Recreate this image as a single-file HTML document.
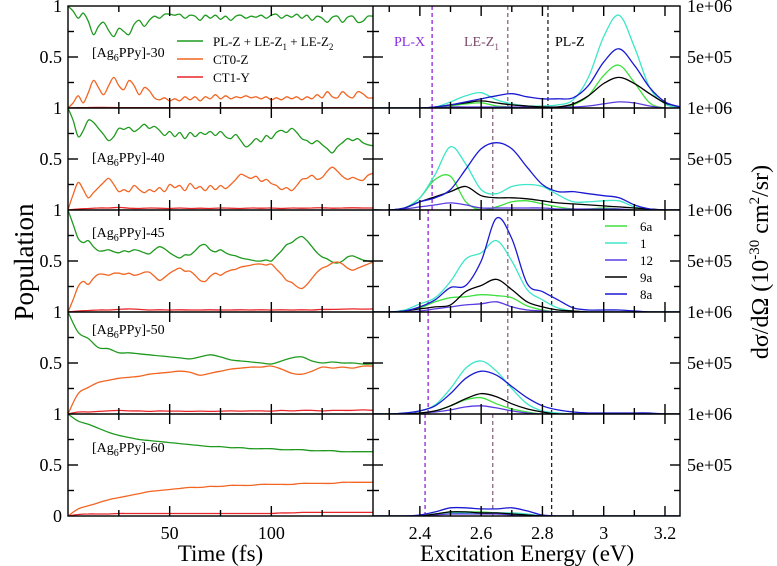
<!DOCTYPE html>
<html><head><meta charset="utf-8"><style>
body{margin:0;background:#fff;}
svg{display:block;font-family:"Liberation Serif",serif;}
</style></head><body>
<svg id="c" width="777" height="566" viewBox="0 0 777 566" xmlns="http://www.w3.org/2000/svg"></svg>
<script>
const timeFine=[];for(let i=0;i<=60;i++)timeFine.push(i*2.5);
const timeCoarse=[];for(let i=0;i<=30;i++)timeCoarse.push(i*5);
const energies=[2.25,2.30,2.35,2.40,2.45,2.50,2.55,2.60,2.65,2.70,2.75,2.80,2.85,2.90,2.95,3.00,3.05,3.10,3.15,3.20,3.25];
const rowNames=["[Ag6PPy]-30","[Ag6PPy]-40","[Ag6PPy]-45","[Ag6PPy]-50","[Ag6PPy]-60"];
const greenR1=[1.0,0.95,0.88,0.93,0.85,0.72,0.80,0.84,0.76,0.70,0.78,0.75,0.72,0.82,0.86,0.80,0.86,0.90,0.88,0.92,0.92,0.91,0.92,0.88,0.91,0.90,0.86,0.91,0.88,0.91,0.87,0.90,0.86,0.90,0.91,0.88,0.90,0.89,0.91,0.88,0.91,0.92,0.88,0.91,0.89,0.92,0.88,0.91,0.86,0.90,0.88,0.84,0.89,0.90,0.84,0.89,0.90,0.84,0.85,0.90,0.90];
const orangeR1=[0,0.05,0.12,0.05,0.15,0.27,0.20,0.13,0.22,0.30,0.22,0.18,0.27,0.22,0.13,0.20,0.17,0.10,0.08,0.10,0.07,0.09,0.07,0.11,0.08,0.11,0.07,0.11,0.09,0.13,0.09,0.12,0.09,0.11,0.10,0.12,0.10,0.11,0.09,0.11,0.08,0.10,0.08,0.11,0.09,0.11,0.08,0.11,0.09,0.13,0.10,0.16,0.11,0.10,0.16,0.12,0.10,0.16,0.14,0.10,0.10];
const greenR2=[1.0,0.88,0.72,0.78,0.88,0.86,0.80,0.74,0.68,0.72,0.80,0.79,0.81,0.77,0.80,0.84,0.80,0.82,0.78,0.73,0.77,0.72,0.76,0.70,0.76,0.72,0.76,0.74,0.77,0.73,0.77,0.72,0.70,0.74,0.68,0.62,0.65,0.70,0.67,0.73,0.70,0.76,0.78,0.76,0.80,0.76,0.70,0.68,0.65,0.68,0.64,0.60,0.56,0.62,0.66,0.70,0.68,0.70,0.66,0.64,0.63];
const orangeR2=[0,0.15,0.27,0.20,0.12,0.17,0.22,0.27,0.31,0.25,0.18,0.20,0.18,0.24,0.20,0.17,0.20,0.18,0.22,0.18,0.25,0.22,0.24,0.19,0.26,0.21,0.23,0.19,0.24,0.20,0.24,0.21,0.25,0.30,0.35,0.33,0.31,0.33,0.28,0.30,0.26,0.24,0.20,0.22,0.19,0.24,0.30,0.31,0.34,0.30,0.32,0.38,0.42,0.38,0.33,0.30,0.32,0.30,0.29,0.34,0.36];
const greenR3=[1.0,0.86,0.72,0.68,0.70,0.64,0.60,0.60,0.61,0.59,0.58,0.60,0.59,0.61,0.60,0.58,0.57,0.61,0.64,0.62,0.58,0.55,0.53,0.56,0.56,0.60,0.65,0.66,0.61,0.59,0.61,0.58,0.56,0.55,0.53,0.52,0.51,0.50,0.50,0.51,0.50,0.55,0.60,0.66,0.68,0.72,0.74,0.70,0.64,0.58,0.54,0.52,0.49,0.48,0.50,0.54,0.55,0.53,0.51,0.50,0.49];
const orangeR3=[0,0.12,0.25,0.30,0.27,0.33,0.37,0.37,0.36,0.38,0.38,0.37,0.38,0.36,0.37,0.39,0.39,0.35,0.31,0.34,0.38,0.41,0.43,0.40,0.40,0.36,0.31,0.30,0.35,0.38,0.36,0.39,0.41,0.42,0.44,0.45,0.46,0.47,0.47,0.46,0.47,0.42,0.37,0.31,0.29,0.25,0.23,0.27,0.33,0.39,0.43,0.45,0.48,0.49,0.47,0.43,0.41,0.43,0.45,0.47,0.49];
const greenR4=[1.0,0.80,0.74,0.65,0.64,0.60,0.60,0.59,0.58,0.57,0.56,0.55,0.54,0.56,0.58,0.56,0.53,0.52,0.51,0.50,0.49,0.52,0.55,0.56,0.52,0.50,0.51,0.50,0.50,0.49,0.49];
const orangeR4=[0,0.20,0.26,0.31,0.33,0.35,0.36,0.37,0.39,0.40,0.41,0.42,0.41,0.38,0.40,0.42,0.44,0.45,0.46,0.46,0.47,0.44,0.40,0.39,0.42,0.46,0.45,0.46,0.45,0.47,0.47];
const greenR5=[1.0,0.93,0.90,0.86,0.82,0.79,0.77,0.75,0.74,0.73,0.72,0.71,0.70,0.69,0.68,0.68,0.67,0.67,0.66,0.66,0.66,0.65,0.65,0.65,0.64,0.64,0.64,0.63,0.63,0.63,0.63];
const orangeR5=[0,0.07,0.10,0.13,0.16,0.18,0.20,0.22,0.24,0.25,0.26,0.27,0.28,0.28,0.29,0.29,0.30,0.30,0.30,0.31,0.31,0.31,0.31,0.32,0.32,0.32,0.32,0.33,0.33,0.33,0.33];
const redR1=[0,0.003,0.005,0.006,0.005,0.004,0.004,0.004,0.004,0.004,0.004,0.004,0.004,0.004,0.004,0.004,0.004,0.004,0.004,0.004,0.004,0.004,0.004,0.004,0.004,0.004,0.004,0.004,0.004,0.004,0.004];
const redR2=[0,0.01,0.015,0.02,0.02,0.025,0.018,0.015,0.02,0.018,0.015,0.02,0.015,0.018,0.015,0.02,0.018,0.015,0.02,0.018,0.02,0.015,0.02,0.018,0.02,0.022,0.018,0.02,0.022,0.02,0.02];
const redR3=[0,0.01,0.015,0.02,0.02,0.025,0.03,0.025,0.02,0.022,0.02,0.022,0.02,0.02,0.022,0.02,0.02,0.022,0.02,0.022,0.02,0.022,0.02,0.022,0.02,0.025,0.025,0.028,0.03,0.028,0.03];
const redR4=[0,0.02,0.02,0.025,0.03,0.035,0.03,0.03,0.025,0.03,0.028,0.028,0.025,0.028,0.025,0.028,0.03,0.028,0.03,0.03,0.028,0.035,0.03,0.035,0.035,0.03,0.035,0.035,0.035,0.04,0.035];
const redR5=[0,0.015,0.02,0.02,0.02,0.025,0.025,0.025,0.025,0.025,0.025,0.025,0.025,0.025,0.025,0.025,0.025,0.025,0.025,0.025,0.025,0.03,0.03,0.035,0.035,0.035,0.035,0.035,0.035,0.035,0.035];
const s6aR1=[0,0,0,0,0,0.02,0.04,0.05,0.02,0.01,0,0,0,0.03,0.12,0.32,0.42,0.25,0.05,0,0];
const s1R1=[0,0,0,0,0.01,0.06,0.12,0.15,0.08,0.04,0.02,0.02,0.03,0.08,0.30,0.70,0.91,0.60,0.20,0.04,0];
const s12R1=[0,0,0,0,0,0.01,0.01,0.01,0.01,0.01,0.01,0.01,0.01,0.01,0.02,0.04,0.06,0.05,0.02,0,0];
const s9aR1=[0,0,0,0,0.01,0.03,0.05,0.07,0.05,0.03,0.02,0.01,0.01,0.04,0.12,0.24,0.30,0.24,0.14,0.05,0.01];
const s8aR1=[0,0,0,0,0.01,0.03,0.06,0.09,0.12,0.14,0.11,0.09,0.09,0.10,0.22,0.45,0.58,0.42,0.20,0.06,0.01];
const s6aR2=[0,0,0.02,0.12,0.30,0.33,0.08,0,0.03,0.08,0.09,0.06,0.03,0.01,0.01,0.02,0.01,0,0,0,0];
const s1R2=[0,0,0.02,0.12,0.35,0.62,0.45,0.20,0.16,0.23,0.25,0.23,0.15,0.08,0.08,0.09,0.09,0.03,0,0,0];
const s12R2=[0,0,0.01,0.03,0.05,0.07,0.05,0.02,0.02,0.02,0.02,0.02,0.01,0.01,0.01,0.01,0.01,0,0,0,0];
const s9aR2=[0,0,0.02,0.08,0.13,0.18,0.23,0.14,0.12,0.12,0.11,0.09,0.07,0.06,0.05,0.04,0.03,0.02,0.01,0,0];
const s8aR2=[0,0,0.02,0.08,0.12,0.20,0.40,0.60,0.66,0.60,0.42,0.25,0.18,0.18,0.16,0.14,0.12,0.05,0.01,0,0];
const s6aR3=[0,0,0.01,0.04,0.10,0.14,0.15,0.17,0.16,0.14,0.06,0.02,0,0,0,0,0,0,0,0,0];
const s1R3=[0,0,0.02,0.08,0.14,0.30,0.52,0.58,0.70,0.50,0.22,0.12,0.04,0.01,0,0,0,0,0,0,0];
const s12R3=[0,0,0,0.01,0.03,0.05,0.07,0.08,0.10,0.05,0.02,0.01,0,0,0,0,0,0,0,0,0];
const s9aR3=[0,0,0.01,0.03,0.05,0.07,0.20,0.26,0.32,0.22,0.10,0.05,0.02,0.01,0,0,0,0,0,0,0];
const s8aR3=[0,0,0.01,0.05,0.12,0.24,0.26,0.50,0.92,0.72,0.28,0.20,0.12,0.04,0.02,0.02,0.02,0.01,0,0,0];
const s6aR4=[0,0,0,0.01,0.03,0.08,0.14,0.16,0.10,0.05,0.02,0,0,0,0,0,0,0,0,0,0];
const s1R4=[0,0,0.01,0.03,0.09,0.25,0.45,0.52,0.42,0.25,0.10,0.03,0.01,0,0,0,0,0,0,0,0];
const s12R4=[0,0,0,0.01,0.02,0.04,0.07,0.08,0.06,0.03,0.01,0,0,0,0,0,0,0,0,0,0];
const s9aR4=[0,0,0,0.01,0.03,0.08,0.15,0.20,0.17,0.10,0.05,0.02,0,0,0,0,0,0,0,0,0];
const s8aR4=[0,0,0.01,0.03,0.08,0.20,0.35,0.42,0.38,0.27,0.16,0.08,0.04,0.02,0.01,0.01,0.01,0.01,0.01,0,0];
const s6aR5=[0,0,0,0,0.02,0.04,0.04,0.04,0.03,0.02,0.01,0,0,0,0,0,0,0,0,0,0];
const s1R5=[0,0,0,0,0.02,0.03,0.03,0.03,0.03,0.03,0.02,0,0,0,0,0,0,0,0,0,0];
const s12R5=[0,0,0,0,0.01,0.02,0.02,0.02,0.02,0.01,0,0,0,0,0,0,0,0,0,0,0];
const s9aR5=[0,0,0,0,0.02,0.04,0.04,0.03,0.03,0.02,0.01,0,0,0,0,0,0,0,0,0,0];
const s8aR5=[0,0,0,0.01,0.04,0.08,0.08,0.07,0.07,0.08,0.05,0.01,0,0,0,0,0,0,0,0,0];
const plX=[2.44,2.44,2.427,2.427,2.417];
const leZ1=[2.687,2.638,2.687,2.687,2.638];
const plZ=[2.818,2.83,2.83,2.83,2.83];

const NS="http://www.w3.org/2000/svg";
const svg=document.getElementById('c');
const L0=68,L1=373,R0=373,R1=680,TOP=6,RH=102;
const labelOffsets=[51,54,27,22,38];
const tx=t=>L0+(t-0)/150*(L1-L0);
const ex=e=>R0+(e-2.247)/(3.249-2.247)*(R1-R0);
const vy=(r,v)=>TOP+RH*(r+1)-v*RH;
function el(tag,attrs,parent){const e=document.createElementNS(NS,tag);for(const k in attrs)e.setAttribute(k,attrs[k]);(parent||svg).appendChild(e);return e;}
function smooth(pts){let d="M"+pts[0][0].toFixed(1)+","+pts[0][1].toFixed(1);
 for(let i=0;i<pts.length-1;i++){const p0=pts[Math.max(0,i-1)],p1=pts[i],p2=pts[i+1],p3=pts[Math.min(pts.length-1,i+2)];
 const c1=[p1[0]+(p2[0]-p0[0])/6,p1[1]+(p2[1]-p0[1])/6],c2=[p2[0]-(p3[0]-p1[0])/6,p2[1]-(p3[1]-p1[1])/6];
 d+="C"+c1[0].toFixed(1)+","+c1[1].toFixed(1)+" "+c2[0].toFixed(1)+","+c2[1].toFixed(1)+" "+p2[0].toFixed(1)+","+p2[1].toFixed(1);}return d;}
const defs=el('defs',{});
for(let r=0;r<5;r++){const cp=el('clipPath',{id:'cl'+r},defs);el('rect',{x:L0,y:TOP+RH*r,width:L1-L0,height:RH},cp);
 const cr=el('clipPath',{id:'cr'+r},defs);el('rect',{x:R0,y:TOP+RH*r,width:R1-R0,height:RH},cr);}

const popSeries=[[greenR1,orangeR1,redR1,timeFine],[greenR2,orangeR2,redR2,timeFine],[greenR3,orangeR3,redR3,timeFine],[greenR4,orangeR4,redR4,timeCoarse],[greenR5,orangeR5,redR5,timeCoarse]];
const popColors=["#1f9a1f","#f26522","#e8262a"];
const popNames=["pl-le-population","ct0-z-population","ct1-y-population"];
const specSeries=[[s6aR1,s1R1,s12R1,s9aR1,s8aR1],[s6aR2,s1R2,s12R2,s9aR2,s8aR2],[s6aR3,s1R3,s12R3,s9aR3,s8aR3],[s6aR4,s1R4,s12R4,s9aR4,s8aR4],[s6aR5,s1R5,s12R5,s9aR5,s8aR5]];
const specColors=["#3ee03e","#3ee6c8","#5a3be0","#000000","#1a1ad2"];
const specNames=["6a","1","12","9a","8a"];

for(let r=0;r<5;r++){
 const g=el('g',{'clip-path':'url(#cl'+r+')'});
 
 
 const [gr,orr,rd,tm]=popSeries[r];
 [[gr,tm,0],[orr,tm,1],[rd,timeCoarse,2]].forEach(([arr,tarr,ci])=>{
  const p=el('path',{d:smooth(arr.map((v,i)=>[tx(tarr[i]),vy(r,v)])),fill:'none',stroke:popColors[ci],'stroke-width':1.3},g);
  
  
 });
 const gs=el('g',{'clip-path':'url(#cr'+r+')'});
 
 
 [[plX[r],'#a040e0',"4,3",1.5,'pl-x'],[leZ1[r],'#7a4a6a',"4,3",1.1,'le-z1'],[plZ[r],'#222',"4,3",1.3,'pl-z']].forEach(([e,c,da,w,n])=>{
  const ln=el('line',{x1:ex(e),x2:ex(e),y1:TOP+RH*r,y2:TOP+RH*(r+1),stroke:c,'stroke-dasharray':da,'stroke-width':w},gs);
  
  
 });
 specSeries[r].forEach((arr,ci)=>{
  const p=el('path',{d:smooth(arr.map((v,i)=>[ex(energies[i]),vy(r,v)])),fill:'none',stroke:specColors[ci],'stroke-width':1.3},gs);
  
  
 });
}
const ax=el('g',{stroke:'#000','stroke-width':1.4,fill:'none'});


el('rect',{x:L0,y:TOP,width:R1-L0,height:RH*5},ax);
el('line',{x1:L1,x2:L1,y1:TOP,y2:TOP+RH*5},ax);
for(let r=1;r<5;r++)el('line',{x1:L0,x2:R1,y1:TOP+RH*r,y2:TOP+RH*r},ax);
const timeTicks=[25,50,75,100,125];
const energyTicks=[2.3,2.4,2.5,2.6,2.7,2.8,2.9,3.0,3.1,3.2];
for(let r=0;r<5;r++){
 const yt=TOP+RH*r,yb=TOP+RH*(r+1);
 timeTicks.forEach(t=>{const len=(t%50===0)?10:6;el('line',{x1:tx(t),x2:tx(t),y1:yb,y2:yb-len},ax);el('line',{x1:tx(t),x2:tx(t),y1:yt,y2:yt+len},ax);});
 energyTicks.forEach(e=>{const maj=Math.round(e*10)%2===0;const len=maj?10:6;el('line',{x1:ex(e),x2:ex(e),y1:yb,y2:yb-len},ax);el('line',{x1:ex(e),x2:ex(e),y1:yt,y2:yt+len},ax);});
 [0.25,0.5,0.75].forEach(v=>{const len=v===0.5?10:6;const y=vy(r,v);
  el('line',{x1:L0,x2:L0+len,y1:y,y2:y},ax);el('line',{x1:L1,x2:L1-len,y1:y,y2:y},ax);
  el('line',{x1:R0,x2:R0+len,y1:y,y2:y},ax);el('line',{x1:R1,x2:R1-len,y1:y,y2:y},ax);});
}
function txt(s,x,y,attrs,name){const t=el('text',Object.assign({x:x,y:y,'font-size':18,fill:'#000'},attrs||{}));t.innerHTML=s;return t;}
for(let r=0;r<5;r++){
 txt('1',L0-6,TOP+RH*r+6,{'text-anchor':'end'},'y-tick-1-row-'+(r+1));
 txt('0.5',L0-6,vy(r,0.5)+6,{'text-anchor':'end'},'y-tick-0.5-row-'+(r+1));
 txt('1e+06',R1+7,TOP+RH*r+6,{},'y2-tick-1e6-row-'+(r+1));
 txt('5e+05',R1+7,vy(r,0.5)+6,{},'y2-tick-5e5-row-'+(r+1));
 txt(rowNames[r].replace('Ag6','Ag<tspan font-size="10" dy="4">6</tspan><tspan dy="-4">')+'</tspan>',92,TOP+RH*r+labelOffsets[r],{'font-size':14},'row-label-'+(r+1));
}
txt('0',L0-6,TOP+RH*5+6,{'text-anchor':'end'},'y-tick-0');
[50,100].forEach(t=>txt(String(t),tx(t),539,{'text-anchor':'middle'},'x-tick-'+t));
[2.4,2.6,2.8,3,3.2].forEach(e=>txt(String(e),ex(e),539,{'text-anchor':'middle'},'x2-tick-'+e));
txt('Time (fs)',tx(75),561,{'text-anchor':'middle','font-size':23},'x-axis-title');
txt('Excitation Energy (eV)',ex(2.75),561,{'text-anchor':'middle','font-size':23},'x2-axis-title');
txt('Population',33,262,{'text-anchor':'middle','font-size':27,transform:'rotate(-90 33 262)'},'y-axis-title');
txt('dσ/dΩ (10<tspan font-size="15" dy="-9">-30</tspan><tspan dy="9"> cm</tspan><tspan font-size="15" dy="-9">2</tspan><tspan dy="9">/sr)</tspan>',768,262,{'text-anchor':'middle','font-size':24,transform:'rotate(-90 768 262)'},'y2-axis-title');
txt('PL-X',394,46,{'font-size':14,fill:'#8a2be2'},'pl-x-label');
txt('LE-Z<tspan font-size="9" dy="4">1</tspan>',464,46,{'font-size':14,fill:'#7a4a6a'},'le-z1-label');
txt('PL-Z',555,46,{'font-size':14,fill:'#000'},'pl-z-label');
const popLegend=['PL-Z + LE-Z<tspan font-size="9" dy="4">1</tspan><tspan dy="-4"> + LE-Z</tspan><tspan font-size="9" dy="4">2</tspan>','CT0-Z','CT1-Y'];
popLegend.forEach((s,i)=>{const y=41+i*18;
 const ln=el('line',{x1:177,x2:203,y1:y,y2:y,stroke:popColors[i],'stroke-width':1.5});
 
 txt(s,213,y+5,{'font-size':13},'legend-entry-'+popNames[i]);});
specNames.forEach((n,i)=>{const y=226+i*17;
 const ln=el('line',{x1:605,x2:627,y1:y,y2:y,stroke:specColors[i],'stroke-width':1.5});
 
 txt(n,640,y+5,{'font-size':13},'legend-entry-'+n);});
</script>
</body></html>
